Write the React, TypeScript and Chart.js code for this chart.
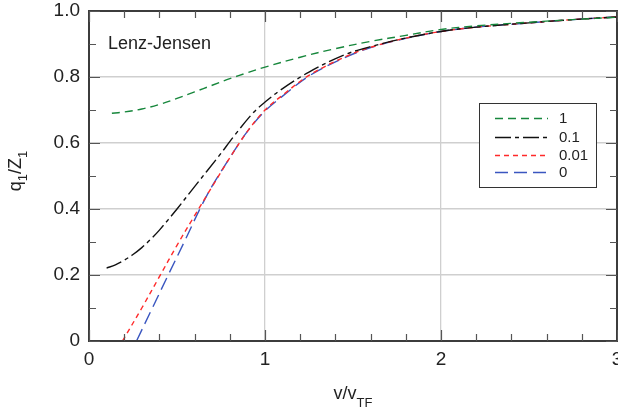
import React, { useEffect, useRef } from 'react';
import Chart from 'chart.js/auto';

const FONT = '"Liberation Sans", Arial, Helvetica, sans-serif';

// Series "1"
const xS1 = [0.13, 0.2, 0.3, 0.4, 0.5, 0.6, 0.7, 0.8, 0.9, 1.0, 1.2, 1.4, 1.6, 1.8, 2.0, 2.2, 2.5, 2.75, 3.0];
const yS1 = [0.69, 0.694, 0.703, 0.717, 0.735, 0.755, 0.775, 0.795, 0.813, 0.83, 0.86, 0.886, 0.908, 0.926, 0.944, 0.955, 0.966, 0.974, 0.981];
// Series "0.1"
const xS01 = [0.1, 0.15, 0.2, 0.25, 0.3, 0.35, 0.4, 0.5, 0.6, 0.73, 0.83, 0.93, 1.0, 1.1, 1.25, 1.45, 1.6, 1.8, 2.0, 2.2, 2.5, 2.75, 3.0];
const yS01 = [0.221, 0.231, 0.245, 0.262, 0.283, 0.308, 0.336, 0.4, 0.468, 0.555, 0.625, 0.69, 0.724, 0.765, 0.815, 0.867, 0.892, 0.918, 0.938, 0.951, 0.964, 0.974, 0.982];
// Series "0.01"
const xS001 = [0.19, 0.3, 0.4, 0.5, 0.6, 0.7, 0.8, 0.9, 1.0, 1.1, 1.25, 1.45, 1.6, 1.8, 2.0, 2.2, 2.5, 2.75, 3.0];
const yS001 = [0, 0.1, 0.195, 0.29, 0.38, 0.468, 0.555, 0.635, 0.7, 0.745, 0.805, 0.86, 0.89, 0.918, 0.938, 0.951, 0.964, 0.974, 0.982];
// Series "0"
const xS0 = [0.27, 0.36, 0.45, 0.55, 0.63, 0.7, 0.8, 0.9, 1.0, 1.1, 1.25, 1.45, 1.6, 1.8, 2.0, 2.2, 2.5, 2.75, 3.0];
const yS0 = [0, 0.1, 0.2, 0.31, 0.4, 0.47, 0.555, 0.635, 0.697, 0.742, 0.803, 0.858, 0.889, 0.917, 0.938, 0.951, 0.964, 0.974, 0.982];

const seriesLabels = ['1', '0.1', '0.01', '0'];
const seriesColors = ['#17873c', '#111111', '#ff2a2a', '#3a56c0'];
const seriesDashes = [[8, 5], [16, 4, 4, 4], [5, 4], [13, 6]];
const xTickLabels = ['0', '1', '2', '3'];
const yTickLabels = ['0', '0.2', '0.4', '0.6', '0.8', '1.0'];

const zip = (xs: number[], ys: number[]) => xs.map((x, i) => ({ x, y: ys[i] }));

const decorPlugin = {
  id: 'decor',
  afterDatasetsDraw(chart: any) {
    const { ctx, chartArea: a, scales } = chart;
    const xs = scales.x, ys = scales.y;
    ctx.save();
    // frame
    ctx.strokeStyle = '#3c3c3c';
    ctx.lineWidth = 2;
    ctx.strokeRect(a.left, a.top, a.right - a.left, a.bottom - a.top);
    // ticks inward
    ctx.strokeStyle = '#555';
    ctx.lineWidth = 1.2;
    for (let i = 0; i <= 15; i++) {
      const v = i * 0.2;
      const px = Math.round(xs.getPixelForValue(v)) + 0.5;
      const len = i % 5 === 0 ? 11 : 7;
      ctx.beginPath();
      ctx.moveTo(px, a.bottom); ctx.lineTo(px, a.bottom - len);
      ctx.moveTo(px, a.top); ctx.lineTo(px, a.top + len);
      ctx.stroke();
    }
    for (let i = 0; i <= 10; i++) {
      const v = i * 0.1;
      const py = Math.round(ys.getPixelForValue(v)) + 0.5;
      const len = i % 2 === 0 ? 11 : 7;
      ctx.beginPath();
      ctx.moveTo(a.left, py); ctx.lineTo(a.left + len, py);
      ctx.moveTo(a.right, py); ctx.lineTo(a.right - len, py);
      ctx.stroke();
    }
    // annotation
    ctx.fillStyle = '#222';
    ctx.font = `18px ${FONT}`;
    ctx.textAlign = 'left';
    ctx.textBaseline = 'alphabetic';
    ctx.fillText('Lenz-Jensen', 108, 49);

    // legend
    ctx.fillStyle = '#fff';
    ctx.fillRect(479.5, 103.5, 117, 84);
    ctx.strokeStyle = '#333';
    ctx.lineWidth = 1;
    ctx.strokeRect(479.5, 103.5, 117, 84);
    const rows = [118, 137, 155, 172];
    seriesLabels.forEach((lab, i) => {
      ctx.strokeStyle = seriesColors[i];
      ctx.lineWidth = 1.4;
      ctx.setLineDash(seriesDashes[i]);
      ctx.beginPath();
      ctx.moveTo(495, rows[i] + 0.5);
      ctx.lineTo(548, rows[i] + 0.5);
      ctx.stroke();
      ctx.setLineDash([]);
      ctx.fillStyle = '#222';
      ctx.font = `15px ${FONT}`;
      ctx.textBaseline = 'middle';
      ctx.fillText(lab, 559, rows[i] + 1);
    });

    // x title: v/v_TF
    ctx.textBaseline = 'alphabetic';
    ctx.fillStyle = '#222';
    const big = `18px ${FONT}`, small = `13px ${FONT}`;
    ctx.font = big;
    const w1 = ctx.measureText('v/v').width;
    ctx.font = small;
    const w2 = ctx.measureText('TF').width;
    const sx = (a.left + a.right) / 2 - (w1 + w2) / 2;
    ctx.font = big;
    ctx.fillText('v/v', sx, 399);
    ctx.font = small;
    ctx.fillText('TF', sx + w1, 407);

    // y title: q_1/Z_1
    ctx.save();
    ctx.translate(21, 171);
    ctx.rotate(-Math.PI / 2);
    const parts: [string, boolean][] = [['q', false], ['1', true], ['/Z', false], ['1', true]];
    let tot = 0;
    parts.forEach(([t, s]) => { ctx.font = s ? small : big; tot += ctx.measureText(t).width; });
    let cx = -tot / 2;
    parts.forEach(([t, s]) => {
      ctx.font = s ? small : big;
      ctx.fillText(t, cx, s ? 6 : 0);
      cx += ctx.measureText(t).width;
    });
    ctx.restore();

    ctx.restore();
  },
};

export default function App() {
  const ref = useRef<HTMLCanvasElement>(null);
  useEffect(() => {
    const xs = [xS1, xS01, xS001, xS0];
    const ysr = [yS1, yS01, yS001, yS0];
    const gridColor = (axisMax: number) => (c: any) => {
      const v = c.tick ? c.tick.value : 0;
      return v > 0.0001 && v < axisMax - 0.0001 ? '#cfcfcf' : 'rgba(0,0,0,0)';
    };
    const chart = new Chart(ref.current!, {
      type: 'line',
      data: {
        datasets: seriesLabels.map((lab, i) => ({
          label: lab,
          data: zip(xs[i], ysr[i]),
          borderColor: seriesColors[i],
          borderDash: seriesDashes[i],
          borderWidth: 1.4,
          pointRadius: 0,
          fill: false,
          tension: 0.35,
        })),
      },
      options: {
        responsive: false,
        animation: false,
        devicePixelRatio: 1,
        layout: { autoPadding: false, padding: { top: 11, right: 1, left: 0, bottom: 0 } },
        plugins: { legend: { display: false }, tooltip: { enabled: false } },
        scales: {
          x: {
            type: 'linear',
            min: 0,
            max: 3,
            afterFit: (s: any) => { s.height = 78; s.paddingLeft = 0; s.paddingRight = 0; },
            ticks: {
              stepSize: 1,
              padding: 7,
              color: '#222',
              font: { family: FONT, size: 19 },
              maxRotation: 0,
              callback: (v: any) => xTickLabels[Math.round(Number(v))] ?? '',
            },
            grid: { color: gridColor(3), lineWidth: 1.3, drawTicks: false },
            border: { display: true, color: '#3c3c3c', width: 2 },
          },
          y: {
            type: 'linear',
            min: 0,
            max: 1,
            afterFit: (s: any) => { s.width = 89; s.paddingTop = 0; s.paddingBottom = 0; },
            ticks: {
              stepSize: 0.2,
              padding: 9,
              color: '#222',
              font: { family: FONT, size: 19 },
              callback: (v: any) => yTickLabels[Math.round(Number(v) * 5)] ?? '',
            },
            grid: { color: gridColor(1), lineWidth: 1.6, drawTicks: false },
            border: { display: true, color: '#3c3c3c', width: 2 },
          },
        },
      } as any,
      plugins: [decorPlugin],
    });
    return () => chart.destroy();
  }, []);
  return (
    <div style={{ position: 'fixed', left: 0, top: 0, width: 618, height: 419, background: '#fff' }}>
      <canvas ref={ref} width={618} height={419} style={{ display: 'block', width: 618, height: 419 }} />
    </div>
  );
}
